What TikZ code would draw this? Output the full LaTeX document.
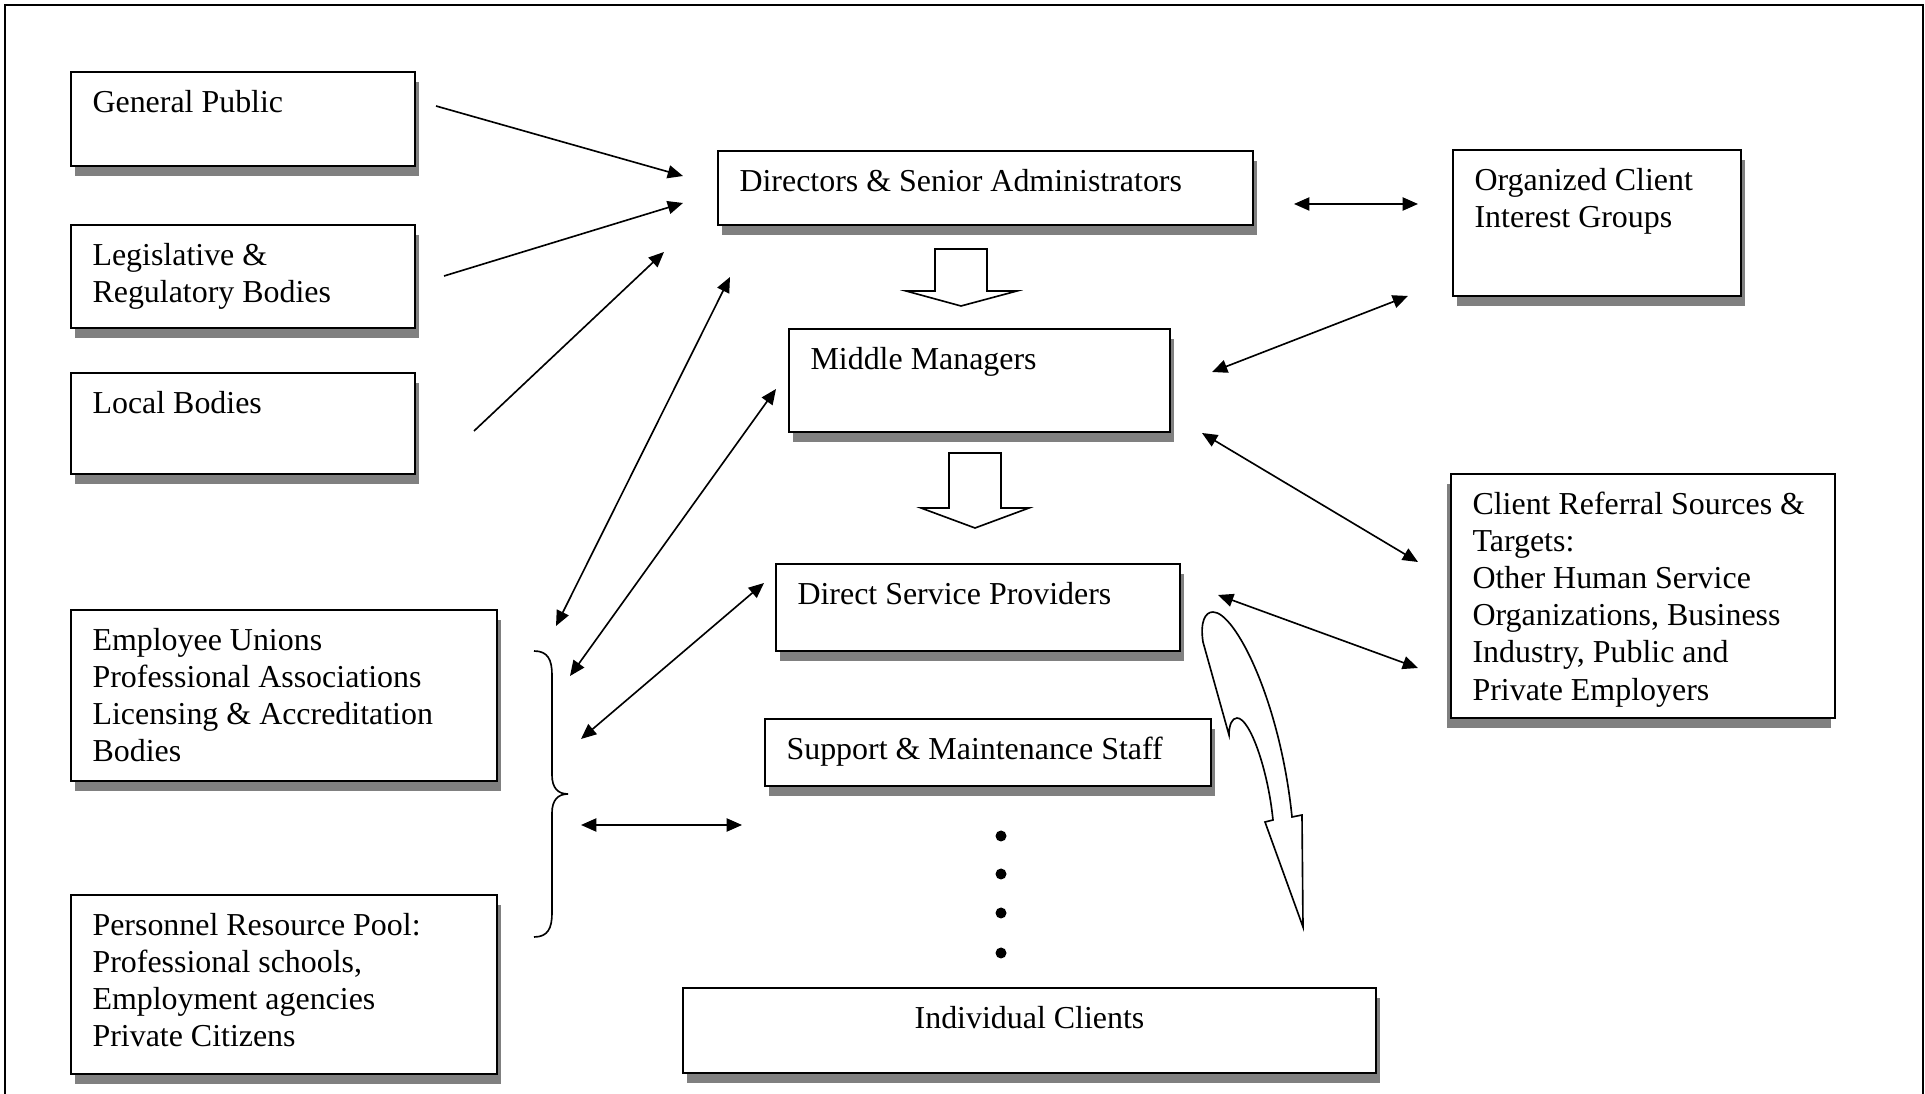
\documentclass[tikz,border=0pt]{standalone}
\usepackage{fontspec}
\setmainfont{Liberation Serif}
\usetikzlibrary{arrows.meta,calc,fit,shadows}

% fixed height for the first line of every box text
\newcommand{\firstlinestrut}{\rule{0pt}{9pt}}

\begin{document}
\begin{tikzpicture}[x=0.3665pt,y=-0.3665pt,
  framed/.style={draw=black, line width=0.75pt, fill=white, inner sep=0pt, outer sep=0pt},
  box/.style={framed, drop shadow={shadow xshift=1.5pt, shadow yshift=-3.6pt, fill=black!50, opacity=1}},
  lbox/.style={framed, drop shadow={shadow xshift=-1.5pt, shadow yshift=-3.6pt, fill=black!50, opacity=1}},
  txt/.style={anchor=north west, inner sep=0pt, align=left, font=\fontsize{11.7}{13.6}\selectfont},
  tip/.tip={Triangle[length=5.6pt,width=4.8pt]},
  arr/.style={line width=0.6pt, -tip},
  darr/.style={line width=0.6pt, tip-tip},
  blockarrow/.style={draw=black, line width=0.6pt, fill=white, line join=miter},
  brace/.style={draw=black, line width=0.6pt},
  dot/.style={circle, fill=black, inner sep=0pt, minimum size=11*0.3665pt}]

\useasboundingbox (0,0) rectangle (1925,1094);

% outer frame, open at the bottom
\draw[line width=0.75pt] (5,1094) -- (5,5) -- (1923,5) -- (1923,1094);

% external environment, left column
\node[box, fit={(71,72) (415,166)}] (gp) {};
\node[txt] (gp-t) at ($(gp.north west)+(21,15.4)$) {\firstlinestrut General Public};

\node[box, fit={(71,225) (415,328)}] (leg) {};
\node[txt] (leg-t) at ($(leg.north west)+(21,15.4)$) {\firstlinestrut Legislative \&\\Regulatory Bodies};

\node[box, fit={(71,373) (415,474)}] (loc) {};
\node[txt] (loc-t) at ($(loc.north west)+(21,15.4)$) {\firstlinestrut Local Bodies};

\node[box, fit={(71,610) (497,781)}] (emp) {};
\node[txt] (emp-t) at ($(emp.north west)+(21,15.4)$) {\firstlinestrut Employee Unions\\Professional Associations\\Licensing \& Accreditation\\Bodies};

\node[box, fit={(71,895) (497,1074)}] (per) {};
\node[txt] (per-t) at ($(per.north west)+(21,15.4)$) {\firstlinestrut Personnel Resource Pool:\\Professional schools,\\Employment agencies\\Private Citizens};

% organization levels
\node[box, fit={(718,151) (1253,225)}] (dir) {};
\node[txt] (dir-t) at ($(dir.north west)+(21,15.4)$) {\firstlinestrut Directors \& Senior Administrators};

\node[box, fit={(789,329) (1170,432)}] (mm) {};
\node[txt] (mm-t) at ($(mm.north west)+(21,15.4)$) {\firstlinestrut Middle Managers};

\node[box, fit={(776,564) (1180,651)}] (dsp) {};
\node[txt] (dsp-t) at ($(dsp.north west)+(21,15.4)$) {\firstlinestrut Direct Service Providers};

\node[box, fit={(765,719) (1211,786)}] (sup) {};
\node[txt] (sup-t) at ($(sup.north west)+(21,15.4)$) {\firstlinestrut Support \& Maintenance Staff};

\node[box, fit={(683,988) (1376,1073)}] (ind) {};
\node[txt, anchor=north] (ind-t) at ($(ind.north)+(0,15.4)$) {\firstlinestrut Individual Clients};

% external environment, right column
\node[box, fit={(1453,150) (1741,296)}] (org) {};
\node[txt] (org-t) at ($(org.north west)+(21,15.4)$) {\firstlinestrut Organized Client\\Interest Groups};

\node[lbox, fit={(1451,474) (1835,718)}] (ref) {};
\node[txt] (ref-t) at ($(ref.north west)+(21,15.4)$) {\firstlinestrut Client Referral Sources \&\\Targets:\\Other Human Service\\Organizations, Business\\Industry, Public and\\Private Employers};

% connector end points
\coordinate (gp-o)  at (436,106);  \coordinate (dir-a) at (683,176);
\coordinate (leg-o) at (444,276);  \coordinate (dir-b) at (683,203);
\coordinate (loc-o) at (474,431);  \coordinate (dir-c) at (664,252);
\coordinate (dir-r) at (1294,204); \coordinate (org-l) at (1418,204);
\coordinate (grp-a) at (556,626);  \coordinate (dir-d) at (730,277);
\coordinate (grp-b) at (570,676);  \coordinate (mm-l)  at (776,389);
\coordinate (grp-c) at (581,739);  \coordinate (dsp-l) at (764,583);
\coordinate (grp-d) at (581,825);  \coordinate (sup-l) at (742,825);
\coordinate (mm-r)  at (1212,372); \coordinate (org-b) at (1408,296);
\coordinate (mm-c)  at (1202,433); \coordinate (ref-a) at (1418,562);
\coordinate (dsp-r) at (1218,595); \coordinate (ref-b) at (1418,668);

\draw[arr]  (gp-o)  -- (dir-a);
\draw[arr]  (leg-o) -- (dir-b);
\draw[arr]  (loc-o) -- (dir-c);
\draw[darr] (dir-r) -- (org-l);
\draw[darr] (grp-a) -- (dir-d);
\draw[darr] (grp-b) -- (mm-l);
\draw[darr] (grp-c) -- (dsp-l);
\draw[darr] (grp-d) -- (sup-l);
\draw[darr] (mm-r)  -- (org-b);
\draw[darr] (mm-c)  -- (ref-a);
\draw[darr] (dsp-r) -- (ref-b);

% downward block arrows between levels
\draw[blockarrow] (935,249) -- (987,249) -- (987,291) -- (1017,291) -- (961,306)
  -- (906,291) -- (935,291) -- cycle;
\draw[blockarrow] (949,453) -- (1001,453) -- (1001,508) -- (1029,508) -- (975,528)
  -- (921,508) -- (949,508) -- cycle;

% curved arrow from the service providers down to the clients
\draw[blockarrow] (1229,735) -- (1203,642)
  .. controls (1200,622) and (1205,612) .. (1213,612)
  .. controls (1235,612) and (1280,700) .. (1292,817)
  -- (1302,815) -- (1303,927) -- (1265,822) -- (1273,820)
  .. controls (1268,770) and (1250,718) .. (1237,718)
  .. controls (1232,718) and (1229,725) .. (1229,735) -- cycle;

% brace grouping the two lower left boxes
\draw[brace] (534,651) .. controls (548,651) and (552,660) .. (552,675) -- (552,775)
  .. controls (552,788) and (558,794) .. (568,794)
  .. controls (558,794) and (552,800) .. (552,813) -- (552,913)
  .. controls (552,928) and (548,937) .. (534,937);

% omitted levels
\node[dot] (d1) at (1001,836) {};
\node[dot] (d2) at (1001,874) {};
\node[dot] (d3) at (1001,913) {};
\node[dot] (d4) at (1001,953) {};

\end{tikzpicture}
\end{document}
